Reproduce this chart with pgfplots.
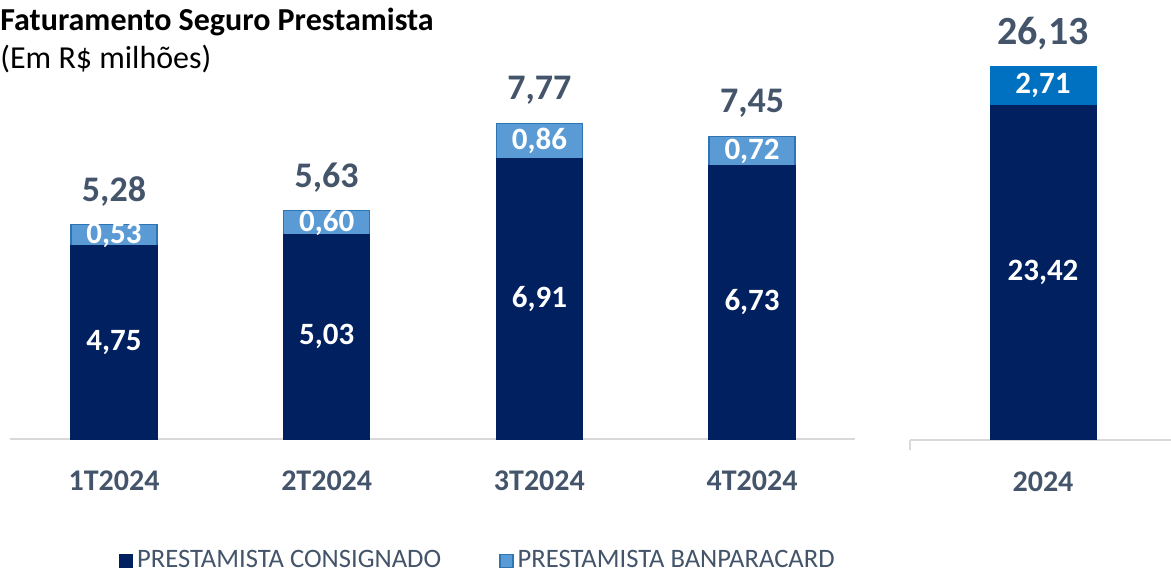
\documentclass[border=0pt]{standalone}
\usepackage{fontspec}
\setmainfont{Carlito}
\usepackage{pgfplots}
\pgfplotsset{compat=1.18}
\definecolor{navy}{HTML}{002060}
\definecolor{lightblue}{HTML}{5B9BD5}
\definecolor{blueborder}{HTML}{2E75B6}
\definecolor{darkblue}{HTML}{0070C0}
\definecolor{textgray}{HTML}{44546A}
\definecolor{axisgray}{HTML}{D9D9D9}

\pgfplotsset{
  base/.style={
    scale only axis, clip=false,
    ymin=0,
    axis x line*=bottom, axis y line=none, ytick=\empty,
    x axis line style={-, draw=axisgray, line width=1pt},
    major tick length=0pt,
    xticklabel style={font=\fontsize{15}{18}\selectfont\bfseries, text=textgray, yshift=-12.5pt},
  },
  seglab/.style={draw=none, mark=none, forget plot, point meta=explicit symbolic,
    nodes near coords, nodes near coords style={anchor=center, text=white,
    font=\fontsize{15.5}{18}\selectfont\bfseries}},
  totlab/.style={draw=none, mark=none, forget plot, point meta=explicit symbolic,
    nodes near coords, nodes near coords style={anchor=center, text=textgray,
    yshift=16.5pt, font=\fontsize{#1}{22}\selectfont\bfseries}},
  legend image code/.code={\draw[#1] (0pt,-3.25pt) rectangle (6.5pt,3.25pt);},
}

\begin{document}
\begin{tikzpicture}
\path[use as bounding box] (0,0) rectangle (585.5pt,-286.5pt);
\node[anchor=base west, inner sep=0, font=\fontsize{16}{19}\selectfont\bfseries] at (0,-15pt) {Faturamento Seguro Prestamista};
\node[anchor=base west, inner sep=0, font=\fontsize{16}{19}\selectfont] at (0,-34pt) {(Em R\$ milhões)};

% quarterly
\begin{axis}[base,
  at={(5pt,-219.5pt)}, anchor=south west,
  width=422.5pt, height=203pt,
  xmin=-0.489, xmax=3.484, ymax=10,
  xtick={0,1,2,3}, xticklabels={1T2024,2T2024,3T2024,4T2024},
  legend columns=2,
  legend style={at={(0.555,-0.30)}, anchor=center, draw=none, inner sep=1pt,
    font=\fontsize{13.3}{16}\selectfont, text=textgray,
    /tikz/every even column/.append style={column sep=27pt}},
]
\addplot[ybar, bar width=43pt, bar shift=0pt, fill=lightblue, draw=blueborder, line width=0.75pt, forget plot]
  coordinates {(0,5.28) (1,5.63) (2,7.77) (3,7.45)};
\addplot[ybar, bar width=43pt, bar shift=0pt, fill=navy, draw=navy, line width=0.75pt, forget plot]
  coordinates {(0,4.75) (1,5.03) (2,6.91) (3,6.73)};
\addplot[seglab] table[x=x, y=y, meta=lab] {
x y lab
0 2.375 4,75
1 2.515 5,03
2 3.455 6,91
3 3.365 6,73
0 5.015 0,53
1 5.33 0,60
2 7.34 0,86
3 7.09 0,72
};
\addplot[totlab=18] table[x=x, y=y, meta=lab] {
x y lab
0 5.28 5,28
1 5.63 5,63
2 7.77 7,77
3 7.45 7,45
};
\addlegendimage{fill=navy, draw=navy}
\addlegendentry{PRESTAMISTA CONSIGNADO}
\addlegendimage{fill=lightblue, draw=blueborder, line width=0.75pt}
\addlegendentry{PRESTAMISTA BANPARACARD}
\end{axis}

% annual
\begin{axis}[base,
  at={(455pt,-220pt)}, anchor=south west,
  width=130.5pt, height=200.2pt,
  xmin=-133, xmax=128, ymax=28,
  xtick={0}, xticklabels={2024},
]
\addplot[ybar, bar width=53.5pt, bar shift=0pt, fill=darkblue, draw=none, forget plot]
  coordinates {(0,26.13)};
\addplot[ybar, bar width=53.5pt, bar shift=0pt, fill=navy, draw=none, forget plot]
  coordinates {(0,23.42)};
\addplot[seglab] table[x=x, y=y, meta=lab] {
x y lab
0 11.71 23,42
0 24.775 2,71
};
\addplot[totlab=20] table[x=x, y=y, meta=lab] {
x y lab
0 26.13 26,13
};
\draw[axisgray, line width=1pt] (rel axis cs:0,0) -- ([yshift=-5pt]rel axis cs:0,0);
\end{axis}
\end{tikzpicture}
\end{document}
